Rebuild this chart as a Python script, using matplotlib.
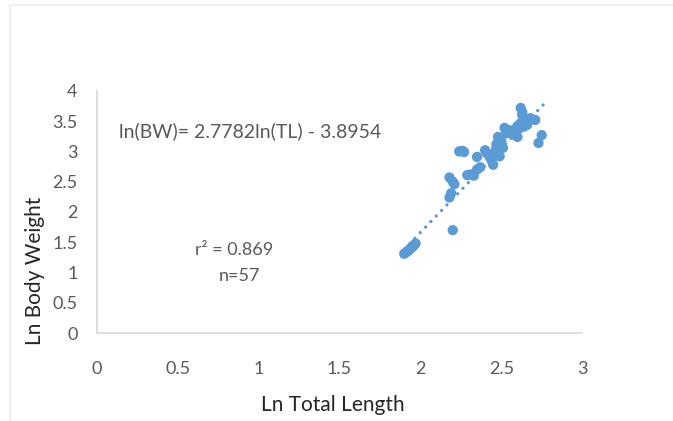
import matplotlib
matplotlib.use("Agg")
import matplotlib.pyplot as plt
import numpy as np
from matplotlib.lines import Line2D

# ---------------- data ----------------
ln_tl = [1.90, 1.91, 1.92, 1.93, 1.94, 1.95, 1.96, 1.97,
         2.20,
         2.19, 2.18,
         2.18, 2.20, 2.21,
         2.24, 2.26, 2.27,
         2.29, 2.31, 2.33,
         2.35, 2.37, 2.35,
         2.40, 2.41, 2.43, 2.45, 2.46, 2.47, 2.47, 2.48, 2.50, 2.51, 2.49,
         2.52, 2.53, 2.55, 2.57, 2.58, 2.60, 2.60, 2.61, 2.62, 2.62,
         2.63, 2.63, 2.64, 2.65, 2.66, 2.67, 2.68, 2.71, 2.73, 2.75,
         2.44, 2.56, 2.64]
ln_bw = [1.31, 1.33, 1.35, 1.37, 1.40, 1.42, 1.45, 1.48,
         1.70,
         2.31, 2.24,
         2.57, 2.50, 2.46,
         3.00, 3.01, 2.99,
         2.61, 2.62, 2.60,
         2.70, 2.74, 2.91,
         3.02, 2.97, 2.90, 2.78, 2.99, 3.07, 3.12, 3.24, 3.18, 3.06, 2.92,
         3.39, 3.30, 3.35, 3.28, 3.35, 3.24, 3.42, 3.38, 3.47, 3.72,
         3.60, 3.65, 3.41, 3.49, 3.44, 3.52, 3.55, 3.52, 3.14, 3.27,
         2.85, 3.33, 3.50]

slope = 2.7782
intercept = -3.8954
fit_range = [1.90, 2.77]

x_ticks = [0, 0.5, 1, 1.5, 2, 2.5, 3]
x_tick_labels = ["0", "0.5", "1", "1.5", "2", "2.5", "3"]
y_ticks = [0, 0.5, 1, 1.5, 2, 2.5, 3, 3.5, 4]
y_tick_labels = ["0", "0.5", "1", "1.5", "2", "2.5", "3", "3.5", "4"]

# ---------------- style ----------------
plt.rcParams["font.family"] = ["Lato", "DejaVu Sans"]
BLUE = "#5B9BD5"
TEXT = "#595959"

fig = plt.figure(figsize=(6.73, 4.21), dpi=100)
ax = fig.add_axes([0.144, 0.209, 0.721, 0.575])

ax.scatter(ln_tl, ln_bw, s=55, color=BLUE, edgecolors="none", zorder=3)

# trend line, Excel-style round dots
fx = np.array(fit_range)
ax.plot(fx, slope * fx + intercept, color=BLUE, lw=2.4,
        linestyle=(0, (0.01, 2.3)), dash_capstyle="round", zorder=2)

ax.set_xlim(0, 3)
ax.set_ylim(0, 4)
ax.set_xticks(x_ticks)
ax.set_xticklabels(x_tick_labels)
ax.set_yticks(y_ticks)
ax.set_yticklabels(y_tick_labels)
ax.tick_params(axis="x", length=0, pad=20, labelsize=13, labelcolor=TEXT)
ax.tick_params(axis="y", length=0, pad=14, labelsize=13, labelcolor=TEXT)

for side in ["top", "right"]:
    ax.spines[side].set_visible(False)
for side in ["left", "bottom"]:
    ax.spines[side].set_color("#d9d9d9")
    ax.spines[side].set_linewidth(1.2)

ax.text(0.95, 3.34, "ln(BW)= 2.7782ln(TL) - 3.8954", ha="center", va="center",
        fontsize=14, color=TEXT)
ax.text(0.85, 1.37, "r\u00b2 = 0.869", ha="center", va="center",
        fontsize=13, color=TEXT)
ax.text(0.88, 0.94, "n=57", ha="center", va="center",
        fontsize=13, color=TEXT)

fig.text(333 / 673, 1 - 405 / 421, "Ln Total Length", ha="center", va="center",
         fontsize=15, color="#262626")
fig.text(35 / 673, 1 - 271 / 421, "Ln Body Weight", ha="center", va="center",
         rotation=90, fontsize=15, color="#262626")

# faint frame around the chart area
fig.add_artist(Line2D([10 / 673, 1], [1 - 5 / 421, 1 - 5 / 421],
                      transform=fig.transFigure, color="#eeeeee", lw=1.5))
fig.add_artist(Line2D([10 / 673, 10 / 673], [0, 1 - 5 / 421],
                      transform=fig.transFigure, color="#eeeeee", lw=1.5))

fig.savefig("out.png", dpi=100)
